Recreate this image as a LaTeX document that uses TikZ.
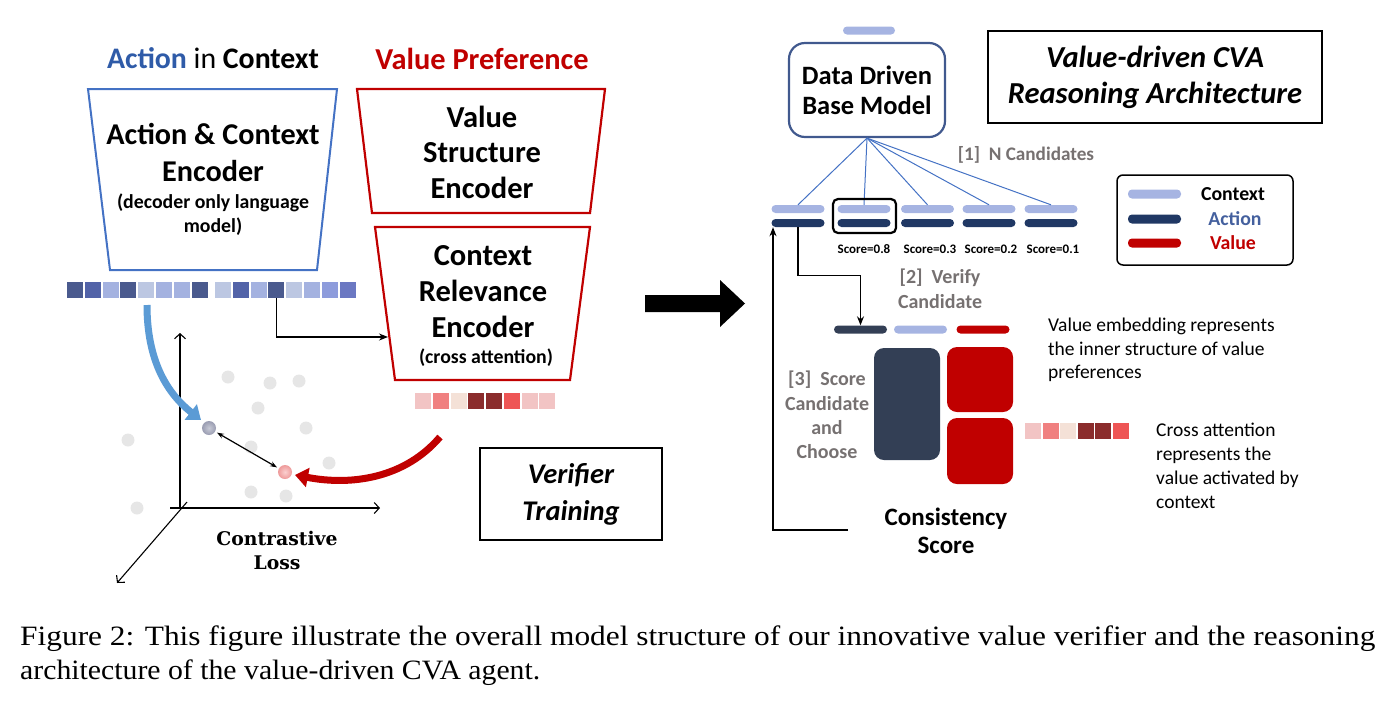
\documentclass[tikz,border=0pt]{standalone}
\usepackage{fontspec}
\setmainfont{Carlito}
\newfontfamily\capfont{Liberation Serif}
\newfontfamily\lossfont{DejaVu Serif}
\usetikzlibrary{arrows.meta}
\definecolor{tblue}{HTML}{2F5BA8}
\definecolor{trap}{HTML}{4472C4}
\definecolor{vred}{HTML}{C00000}
\definecolor{arrblue}{HTML}{5B9BD5}
\definecolor{ltbar}{HTML}{A6B4E2}
\definecolor{navy}{HTML}{203864}
\definecolor{slate}{HTML}{333F55}
\definecolor{grayt}{HTML}{767171}
\definecolor{dotg}{HTML}{E6E6E6}
\definecolor{basebd}{HTML}{41598E}
\definecolor{legact}{HTML}{44609E}
\definecolor{eA}{HTML}{4A5A8E}
\definecolor{eB}{HTML}{5263A8}
\definecolor{eC}{HTML}{A4B2E0}
\definecolor{eD}{HTML}{BCC7E2}
\definecolor{eE}{HTML}{8E9CDC}
\definecolor{eF}{HTML}{6B78C2}
\definecolor{rA}{HTML}{F2C4C4}
\definecolor{rB}{HTML}{F08080}
\definecolor{rC}{HTML}{F4E1D7}
\definecolor{rD}{HTML}{8B2C2C}
\definecolor{rE}{HTML}{EE5555}
\definecolor{daIn}{HTML}{C8CAD6}
\definecolor{daOut}{HTML}{9A9DB2}
\definecolor{drIn}{HTML}{FBD0D0}
\definecolor{drOut}{HTML}{EE9A9A}
\newcommand\fsz[2]{\fontsize{#1}{#2}\selectfont}
\begin{document}
\begin{tikzpicture}[x=1pt,y=-1pt,
  sq/.style={minimum size=16pt, inner sep=0pt, outer sep=0pt},
  bar/.style={rounded corners=4pt, minimum width=53pt, minimum height=8pt, inner sep=0pt},
  gdot/.style={circle, fill=dotg, minimum size=13pt, inner sep=0pt},
  thinln/.style={line width=1.2pt},
  arr/.style={-{Stealth[length=9pt,width=7pt]}},
  ax/.style={line width=1.1pt, -{Straight Barb[length=5pt,width=11pt]}},
  txt/.style={inner sep=0pt, align=center},
  grayl/.style={inner sep=0pt, align=center, text=grayt, font=\bfseries\fsz{20}{24.5}}
]
\useasboundingbox (0,0) rectangle (1392,705);

% ---------- titles ----------
\node[txt, anchor=base] (t1) at (213,68) {\fsz{29.8}{32}\textbf{\color{tblue}Action} in \textbf{Context}};
\node[txt, anchor=base, text=vred, font=\bfseries\fsz{30.4}{33}] (t2) at (482,69) {Value Preference};

% ---------- trapezoids ----------
\draw[trap, line width=2pt] (88,89) -- (337,89) -- (317,270) -- (110,270) -- cycle;
\node[txt, font=\bfseries\fsz{30.2}{37}] (ace) at (213,152) {Action \& Context\\Encoder};
\node[txt, font=\bfseries\fsz{19.8}{24}] (dol) at (213,215) {(decoder only language\\model)};

\draw[vred, line width=2.2pt] (357,89) -- (605,89) -- (590,213) -- (372,213) -- cycle;
\node[txt, font=\bfseries\fsz{30.5}{35.5}] (vse) at (482,152) {Value\\Structure\\Encoder};

\draw[vred, line width=2.2pt] (375,227) -- (590,227) -- (570,380) -- (395,380) -- cycle;
\node[txt, font=\bfseries\fsz{30.5}{36}] (cre) at (483,292) {Context\\Relevance\\Encoder};
\node[txt, font=\bfseries\fsz{19.8}{24}] (ca) at (486,358) {(cross attention)};
\coordinate (crl) at (388,337);

% ---------- embeddings ----------
\foreach \c [count=\i] in {eA,eB,eC,eA,eD,eC,eC,eA,eD,eB,eC,eA,eD,eC,eE,eF} {
  \pgfmathsetmacro\xx{\i<=8 ? 75+17.8*(\i-1) : 223+17.8*(\i-9)}
  \node[sq, fill=\c] (b\i) at (\xx,290) {};
}
\foreach \c [count=\i] in {rA,rB,rC,rD,rD,rE,rA,rA}
  \node[sq, fill=\c] (r\i) at ({423+17.75*(\i-1)},401) {};

\draw[thinln, arr] (b12.south) |- (crl);

% ---------- contrastive space ----------
\draw[ax] (180,508) -- (180,333);
\draw[ax] (170,508) -- (380,508);
\draw[ax] (187,502) -- (117,583);
\foreach \p [count=\i] in {(228,377),(270,383),(299,381),(258,408),(306,428),(128,440),(251,447),(329,463),(251,492),(286,496),(137,508)}
  \node[gdot] (g\i) at \p {};
\node[circle, minimum size=14pt, inner sep=0pt, shade, inner color=daIn, outer color=daOut] (da) at (209,428) {};
\node[circle, minimum size=14pt, inner sep=0pt, shade, inner color=drIn, outer color=drOut] (dr) at (285,472) {};
\draw[thinln, {Stealth[length=7pt,width=5pt]}-{Stealth[length=7pt,width=5pt]}, shorten <=2pt, shorten >=2pt] (da) -- (dr);
\node[txt, font=\lossfont\bfseries\fsz{18.8}{24}] (cl) at (277,550) {Contrastive\\Loss};

\draw[arrblue, line width=7pt, -{Triangle[length=13pt,width=19pt]}] (147,305) .. controls (147,362) and (168,394) .. (201,420);
\draw[vred, line width=7pt, -{Triangle[length=13pt,width=19pt]}] (440,437) .. controls (405,478) and (352,486) .. (295,475);

% ---------- verifier training ----------
\node[draw, line width=2.4pt, minimum width=182pt, minimum height=92pt, inner sep=0pt, align=center, font=\bfseries\itshape\fsz{28.5}{37}] (vt) at (571,494) {Verifier\\Training};

% ---------- big arrow ----------
\fill[black] (645,295) -- (720,295) -- (720,280) -- (745,303.5) -- (720,327) -- (720,312) -- (645,312) -- cycle;

% ---------- right part ----------
\node[bar, fill=ltbar, minimum width=52pt] (inbar) at (869,30.5) {};
\node[draw=basebd, line width=2.2pt, rounded corners=16pt, minimum width=156pt, minimum height=94pt, inner sep=0pt, align=center, font=\bfseries\fsz{26.5}{30}] (base) at (867,90) {Data Driven\\Base Model};
\node[draw, line width=2.2pt, minimum width=334pt, minimum height=92pt, inner sep=0pt, align=center, font=\bfseries\itshape\fsz{30.5}{36}] (cva) at (1155,77) {Value-driven CVA\\Reasoning Architecture};

\foreach \x [count=\k] in {798,864,927.5,989,1051} {
  \node[bar, fill=ltbar] (c\k l) at (\x,209) {};
  \node[bar, fill=navy] (c\k d) at (\x,223) {};
}
\foreach \k in {1,...,5} \draw[trap, line width=1pt] (base.south) -- (c\k l.north);
\draw[line width=2.2pt, rounded corners=5pt] (833,199) rectangle (896,233);
\node[grayl, font=\bfseries\fsz{19.2}{23}] (nc) at (1026,155) {[1]\hspace{0.45em}N Candidates};

\foreach \x/\s [count=\k] in {864/0.8,930/0.3,991/0.2,1053/0.1}
  \node[txt, font=\bfseries\fsz{13}{15}] (s\k) at (\x,249) {Score=\s};

% legend
\draw[line width=1.5pt, rounded corners=6pt] (1117,175) rectangle (1293,265);
\node[bar, fill=ltbar, minimum height=9pt] (lg1) at (1154.5,194) {};
\node[bar, fill=navy, minimum height=9pt] (lg2) at (1154.5,219) {};
\node[bar, fill=vred, minimum height=9pt] (lg3) at (1154.5,243) {};
\node[txt, font=\bfseries\fsz{19.8}{23}] (lt1) at (1233,194) {Context};
\node[txt, font=\bfseries\fsz{19.8}{23}, text=legact] (lt2) at (1235,219) {Action};
\node[txt, font=\bfseries\fsz{19.8}{23}, text=vred] (lt3) at (1233,243) {Value};

% verify
\node[grayl] (vc) at (940,289) {[2]\hspace{0.45em}Verify\\Candidate};
\node[bar, fill=slate] (vd) at (860.5,329.5) {};
\node[bar, fill=ltbar] (vl) at (920.5,329.5) {};
\node[bar, fill=vred] (vr) at (983,329.5) {};
\draw[thinln, arr] (c1d.south) -- ++(0,48) -| (vd.north);
\coordinate (fb) at (848,530);
\draw[thinln, arr] (fb) -| ([xshift=-25pt]c1d.south);

\node[fill=slate, rounded corners=10pt, minimum width=66pt, minimum height=112pt, inner sep=0pt] (big) at (907,404) {};
\node[fill=vred, rounded corners=10pt, minimum width=66pt, minimum height=65pt, inner sep=0pt] (red1) at (980,379.5) {};
\node[fill=vred, rounded corners=10pt, minimum width=66pt, minimum height=66pt, inner sep=0pt] (red2) at (980,451) {};

\node[grayl, font=\bfseries\fsz{20}{24.3}] (sc) at (827,415) {[3]\hspace{0.45em}Score\\Candidate\\and\\Choose};
\node[txt, font=\bfseries\fsz{25}{28}] (cs) at (946,531) {Consistency\\Score};

\node[inner sep=0pt, align=left, anchor=west, font=\fsz{19.5}{23.5}] (ve) at (1048,350) {Value embedding represents\\the inner structure of value\\preferences};
\foreach \c [count=\i] in {rA,rB,rC,rD,rD,rE}
  \node[sq, fill=\c] (q\i) at ({1033+17.5*(\i-1)},431) {};
\node[inner sep=0pt, align=left, anchor=west, font=\fsz{19.5}{24}] (cat) at (1156,466) {Cross attention\\represents the\\value activated by\\context};

% ---------- caption ----------
\node[inner sep=0pt, anchor=base west, font=\capfont\fsz{28}{33}] (cap1) at (20,645) {\resizebox{1355pt}{\height}{Figure 2: This figure illustrate the overall model structure of our innovative value verifier and the reasoning}};
\node[inner sep=0pt, anchor=base west, font=\capfont\fsz{28}{33}] (cap2) at (20,679) {\resizebox{520pt}{\height}{architecture of the value-driven CVA agent.}};
\end{tikzpicture}
\end{document}
